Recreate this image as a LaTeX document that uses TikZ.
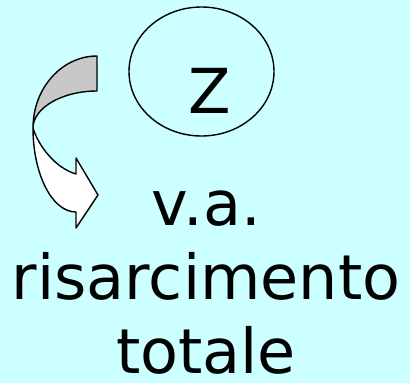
\documentclass[tikz,border=0pt]{standalone}
\usepackage{fontspec}
\setmainfont{DejaVu Sans}
\usepackage{tikz}
\usetikzlibrary{positioning,shapes.geometric}
\definecolor{bgcyan}{RGB}{204,255,255}
\definecolor{bandgrey}{RGB}{200,200,200}

\begin{document}
\begin{tikzpicture}[x=1pt,y=-1pt,
  big/.style={font=\fontsize{62}{74}\selectfont,inner sep=0pt},
  band/.style={draw=black,line width=1.4pt,line join=round}]
\fill[bgcyan] (0,0) rectangle (410,383);
\useasboundingbox (0,0) rectangle (410,383);
\node[draw,ellipse,line width=1.4pt,minimum width=145pt,minimum height=129pt,inner sep=0pt] (zell) at (201.5,71.5) {};
\node[big,anchor=base] (z) at (210,113) {Z};
\node[big,align=center,anchor=base] (va) at (206,373) {v.a.\\risarcimento\\totale};
% curved arrow: back of the band, then front with the head
\coordinate (twist) at (33,128);
\draw[band,fill=bandgrey] (97,56) .. controls (62,56) and (33,88) .. (twist)
  .. controls (33,108) and (62,91) .. (97,91) -- cycle;
\draw[band,fill=white] (twist) .. controls (33,174) and (52,212) .. (76,212)
  -- (76,228) -- (98,195) -- (76,158) -- (76,174)
  .. controls (55,168) and (38,145) .. (twist) -- cycle;
\end{tikzpicture}
\end{document}
